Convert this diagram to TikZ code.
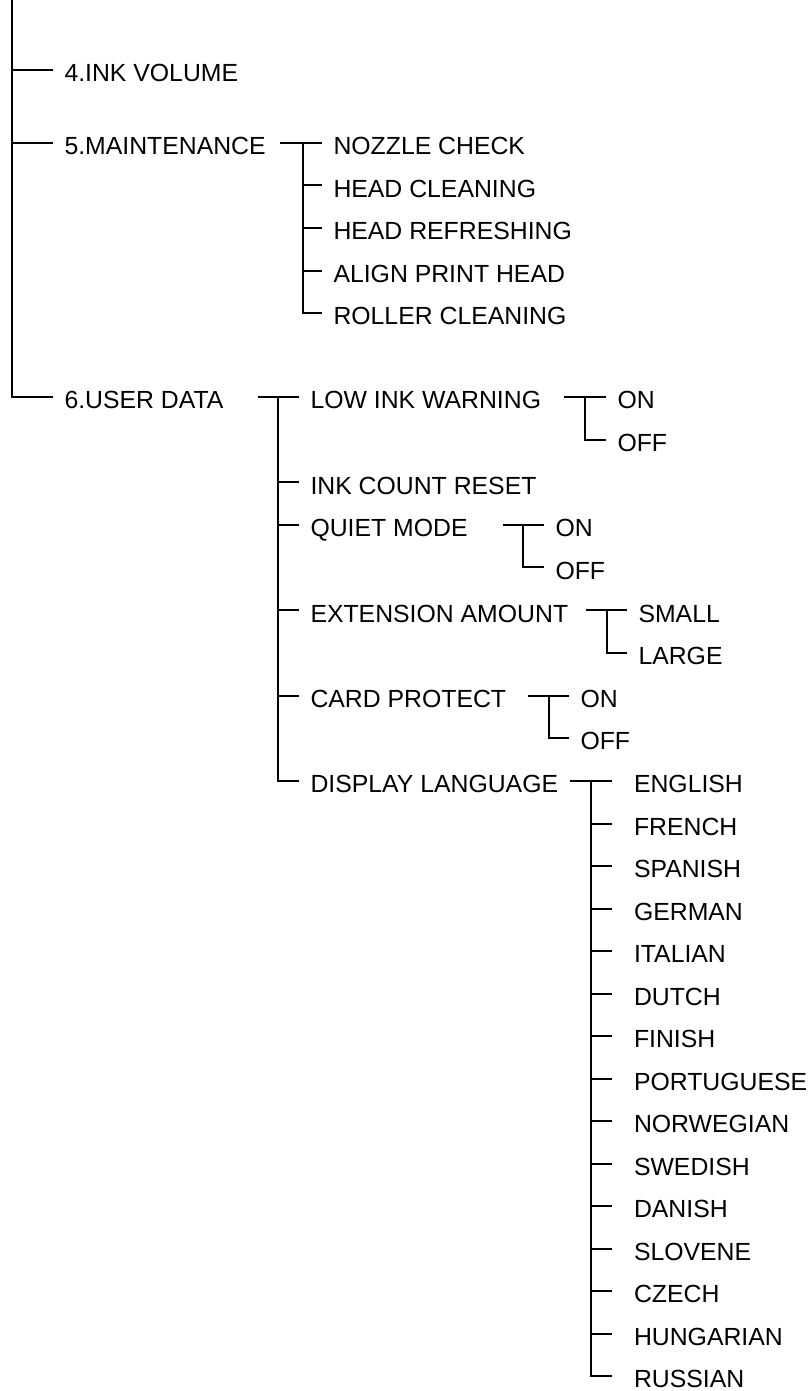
\documentclass[tikz,border=0pt]{standalone}
\usepackage{fontspec}
\setmainfont{Liberation Sans}
\usepackage{tikz}
\usetikzlibrary{positioning}

\begin{document}
\begin{tikzpicture}[x=0.5pt, y=-0.5pt, node distance={21.25pt}, line width=1pt,
        item/.style = {anchor=west, inner ysep=0pt, inner xsep=5.25pt, text height=11.7pt, text depth=0pt, font=\fontsize{12.4}{14}\selectfont},
        lang/.style = {item, inner xsep=10.5pt}]
                \useasboundingbox (0,0) rectangle (811,1391);
                % first level
                \node[item] (1) at (53,70) {4.INK VOLUME};
                \node[item] (2) at (53,143) {5.MAINTENANCE};
                \node[item] (8) at (53,397) {6.USER DATA};
                % maintenance
                \node[item] (3) at (322,143) {NOZZLE CHECK};
                \node[below=of 3.west, item] (4) {HEAD CLEANING};
                \node[below=of 4.west, item] (5) {HEAD REFRESHING};
                \node[below=of 5.west, item] (6) {ALIGN PRINT HEAD};
                \node[below=of 6.west, item] (7) {ROLLER CLEANING};
                % user data
                \node[item] (9) at (299,397) {LOW INK WARNING};
                \node[below=42.7pt of 9.west, item] (12) {INK COUNT RESET};
                \node[below=of 12.west, item] (13) {QUIET MODE};
                \node[below=42.7pt of 13.west, item] (16) {EXTENSION AMOUNT};
                \node[below=42.7pt of 16.west, item] (19) {CARD PROTECT};
                \node[below=42.7pt of 19.west, item] (22) {DISPLAY LANGUAGE};
                % settings
                \node[item] (10) at (9.west -| 606,0) {ON};
                \node[below=of 10.west, item] (11) {OFF};
                \node[item] (14) at (13.west -| 544,0) {ON};
                \node[below=of 14.west, item] (15) {OFF};
                \node[item] (17) at (16.west -| 627,0) {SMALL};
                \node[below=of 17.west, item] (18) {LARGE};
                \node[item] (20) at (19.west -| 569,0) {ON};
                \node[below=of 20.west, item] (21) {OFF};
                % languages
                \node[lang] (23) at (22.west -| 612,0) {ENGLISH};
                \node[below=of 23.west, lang] (24) {FRENCH};
                \node[below=of 24.west, lang] (25) {SPANISH};
                \node[below=of 25.west, lang] (26) {GERMAN};
                \node[below=of 26.west, lang] (27) {ITALIAN};
                \node[below=of 27.west, lang] (28) {DUTCH};
                \node[below=of 28.west, lang] (29) {FINISH};
                \node[below=of 29.west, lang] (30) {PORTUGUESE};
                \node[below=of 30.west, lang] (31) {NORWEGIAN};
                \node[below=of 31.west, lang] (32) {SWEDISH};
                \node[below=of 32.west, lang] (33) {DANISH};
                \node[below=of 33.west, lang] (34) {SLOVENE};
                \node[below=of 34.west, lang] (35) {CZECH};
                \node[below=of 35.west, lang] (36) {HUNGARIAN};
                \node[below=of 36.west, lang] (37) {RUSSIAN};
                % branch points
                \coordinate (r) at (12,0);
                \coordinate (ma) at (280,143);
                \coordinate (mb) at (303,143);
                \coordinate (ua) at (258,397);
                \coordinate (ub) at (278,397);
                \coordinate (wa) at (9.west -| 564,0);
                \coordinate (wb) at (9.west -| 585,0);
                \coordinate (qa) at (13.west -| 503,0);
                \coordinate (qb) at (13.west -| 523,0);
                \coordinate (ea) at (16.west -| 586,0);
                \coordinate (eb) at (16.west -| 607,0);
                \coordinate (ca) at (19.west -| 528,0);
                \coordinate (cb) at (19.west -| 549,0);
                \coordinate (da) at (22.west -| 570,0);
                \coordinate (db) at (22.west -| 591,0);
                % lines
                \draw (r) |- (8.west);
                \path (r |- 1.west) edge (1.west);
                \path (r |- 2.west) edge (2.west);
                \path (ma) edge (3.west);
                \draw (mb) |- (7.west);
                \path (mb |- 4.west) edge (4.west);
                \path (mb |- 5.west) edge (5.west);
                \path (mb |- 6.west) edge (6.west);
                \path (ua) edge (9.west);
                \draw (ub) |- (22.west);
                \path (ub |- 12.west) edge (12.west);
                \path (ub |- 13.west) edge (13.west);
                \path (ub |- 16.west) edge (16.west);
                \path (ub |- 19.west) edge (19.west);
                \path (wa) edge (10.west);
                \draw (wb) |- (11.west);
                \path (qa) edge (14.west);
                \draw (qb) |- (15.west);
                \path (ea) edge (17.west);
                \draw (eb) |- (18.west);
                \path (ca) edge (20.west);
                \draw (cb) |- (21.west);
                \path (da) edge (23.west);
                \draw (db) |- (37.west);
                \path (db |- 24.west) edge (24.west);
                \path (db |- 25.west) edge (25.west);
                \path (db |- 26.west) edge (26.west);
                \path (db |- 27.west) edge (27.west);
                \path (db |- 28.west) edge (28.west);
                \path (db |- 29.west) edge (29.west);
                \path (db |- 30.west) edge (30.west);
                \path (db |- 31.west) edge (31.west);
                \path (db |- 32.west) edge (32.west);
                \path (db |- 33.west) edge (33.west);
                \path (db |- 34.west) edge (34.west);
                \path (db |- 35.west) edge (35.west);
                \path (db |- 36.west) edge (36.west);
            \end{tikzpicture}
\end{document}
